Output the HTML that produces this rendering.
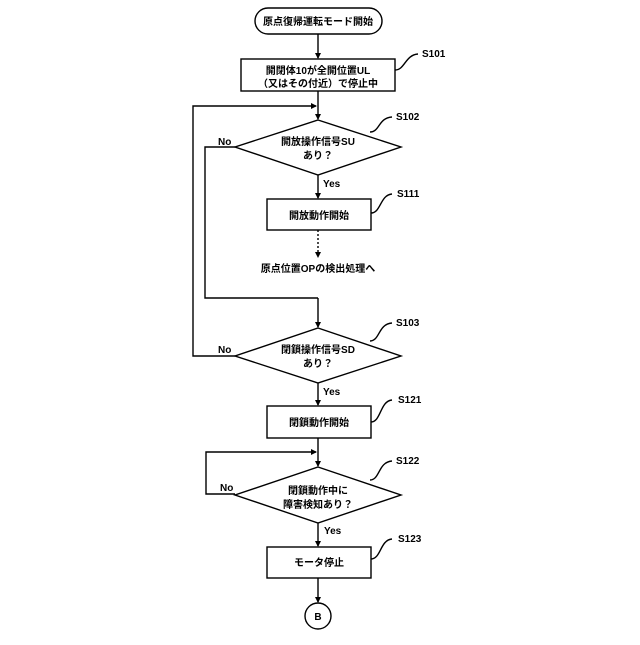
<!DOCTYPE html><html><head><meta charset="utf-8"><style>body{margin:0;background:#fff}svg text{font-family:"Liberation Sans","Noto Sans CJK JP",sans-serif;font-size:10px;fill:#000;font-weight:bold}</style></head><body>
<svg width="640" height="640" viewBox="0 0 640 640" xmlns="http://www.w3.org/2000/svg">
<defs><marker id="a" markerWidth="6" markerHeight="6" refX="5" refY="3" orient="auto" markerUnits="userSpaceOnUse"><path d="M0,0L6,3L0,6z" fill="#000"/></marker></defs>
<g stroke="#000" stroke-width="1.4" fill="none">
<rect x="255" y="8" width="127" height="26" rx="13" fill="#fff"/>
<line x1="318" y1="34" x2="318" y2="58" marker-end="url(#a)"/>
<rect x="241" y="59" width="154" height="32"/>
<line x1="318" y1="91" x2="318" y2="119" marker-end="url(#a)"/>
<polyline points="235,356 193,356 193,106 316,106" marker-end="url(#a)"/>
<polygon points="318,120 401,147 318,175 235,147"/>
<polyline points="235,147 205,147 205,298 318,298"/>
<line x1="318" y1="175" x2="318" y2="198" marker-end="url(#a)"/>
<rect x="267" y="199" width="104" height="31"/>
<line x1="318" y1="230" x2="318" y2="257" stroke-dasharray="2,2" marker-end="url(#a)"/>
<line x1="318" y1="298" x2="318" y2="327" marker-end="url(#a)"/>
<polygon points="318,328 401,356 318,383 235,356"/>
<line x1="318" y1="383" x2="318" y2="405" marker-end="url(#a)"/>
<rect x="267" y="406" width="104" height="32"/>
<line x1="318" y1="438" x2="318" y2="466" marker-end="url(#a)"/>
<polyline points="235,494 206,494 206,452 316,452" marker-end="url(#a)"/>
<polygon points="318,467 401,495 318,523 235,495"/>
<line x1="318" y1="523" x2="318" y2="546" marker-end="url(#a)"/>
<rect x="267" y="547" width="104" height="31"/>
<line x1="318" y1="578" x2="318" y2="602" marker-end="url(#a)"/>
<circle cx="318" cy="616" r="13"/>
<path d="M395,70 C405,70 405,55 418,54"/>
<path d="M370,132 C380,132 378,118 392,117"/>
<path d="M371,213 C381,213 380,195 392,194"/>
<path d="M370,341 C380,341 378,324 392,323"/>
<path d="M371,422 C381,422 380,401 392,400"/>
<path d="M370,480 C380,480 378,462 392,461"/>
<path d="M371,559 C381,559 380,540 392,539"/>
</g>
<g text-anchor="middle">
<text x="318" y="25">原点復帰運転モード開始</text>
<text x="318" y="74">開閉体10が全開位置UL</text>
<text x="318" y="87">（又はその付近）で停止中</text>
<text x="318" y="145">開放操作信号SU</text>
<text x="318" y="159">あり？</text>
<text x="319" y="219">開放動作開始</text>
<text x="318" y="272">原点位置OPの検出処理へ</text>
<text x="318" y="353">閉鎖操作信号SD</text>
<text x="318" y="367">あり？</text>
<text x="319" y="426">閉鎖動作開始</text>
<text x="318" y="494">閉鎖動作中に</text>
<text x="318" y="508">障害検知あり？</text>
<text x="319" y="566">モータ停止</text>
<text x="318" y="620" font-size="9">B</text>
</g>
<text x="422" y="57">S101</text><text x="396" y="120">S102</text><text x="397" y="197">S111</text>
<text x="396" y="326">S103</text><text x="398" y="403">S121</text><text x="396" y="464">S122</text><text x="398" y="542">S123</text>
<text x="218" y="145" font-size="9">No</text><text x="218" y="353" font-size="9">No</text><text x="220" y="491" font-size="9">No</text>
<text x="323" y="187" font-size="9">Yes</text><text x="323" y="395" font-size="9">Yes</text><text x="324" y="534" font-size="9">Yes</text>
</svg></body></html>
